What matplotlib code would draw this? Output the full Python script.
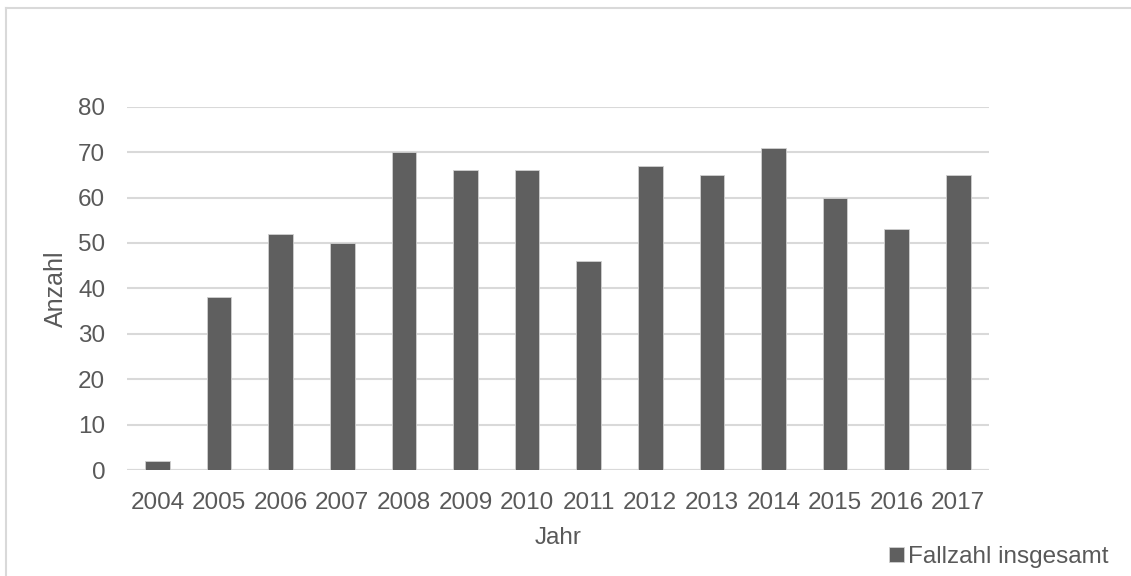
import matplotlib.pyplot as plt
from matplotlib.lines import Line2D

plt.rcParams['font.family'] = ['Liberation Sans', 'DejaVu Sans']

years = ['2004', '2005', '2006', '2007', '2008', '2009', '2010',
         '2011', '2012', '2013', '2014', '2015', '2016', '2017']
counts = [2, 38, 52, 50, 70, 66, 66, 46, 67, 65, 71, 60, 53, 65]
y_ticks = [0, 10, 20, 30, 40, 50, 60, 70, 80]

text_col = '#595959'
bar_col = '#5f5f5f'
grid_col = '#d9d9d9'
fs = 17.5

fig = plt.figure(figsize=(11.31, 5.76), dpi=100)
ax = fig.add_axes([0.112, 0.184, 0.7625, 0.6307])

x = range(len(years))
ax.bar(x, counts, width=0.4, color=bar_col, edgecolor='#d0d0d0', linewidth=0.6,
       label='Fallzahl insgesamt', zorder=3)

ax.set_xlim(-0.5, len(years) - 0.5)
ax.set_ylim(0, 80)
ax.set_yticks(y_ticks)
ax.set_xticks(list(x))
ax.set_xticklabels(years)
ax.grid(axis='y', color=grid_col, linewidth=1.5, zorder=0)
for s in ax.spines.values():
    s.set_visible(False)
ax.axhline(0, color=grid_col, linewidth=1.5, zorder=1)

ax.tick_params(axis='y', length=0, pad=15.5, labelsize=fs, labelcolor=text_col)
ax.tick_params(axis='x', length=0, pad=15.5, labelsize=fs, labelcolor=text_col)

ax.set_ylabel('Anzahl', fontsize=18, color=text_col, va='center')
ax.set_xlabel('Jahr', fontsize=fs, color=text_col, va='center')
ax.yaxis.set_label_coords(-0.082, 0.5)
ax.xaxis.set_label_coords(0.5, -0.187)

fig.legend(loc='center left', bbox_to_anchor=(889 / 1131, 19 / 576), frameon=False,
           fontsize=fs, labelcolor=text_col, handlelength=0.62, handleheight=0.62,
           handletextpad=0.16, borderpad=0, borderaxespad=0)

# outer chart border (top and left visible)
fig.add_artist(Line2D([6 / 1131, 1], [1 - 8 / 576, 1 - 8 / 576],
                      transform=fig.transFigure, color=grid_col, linewidth=1.5))
fig.add_artist(Line2D([6 / 1131, 6 / 1131], [0, 1 - 8 / 576],
                      transform=fig.transFigure, color=grid_col, linewidth=1.5))

fig.savefig('out.png', dpi=100)
